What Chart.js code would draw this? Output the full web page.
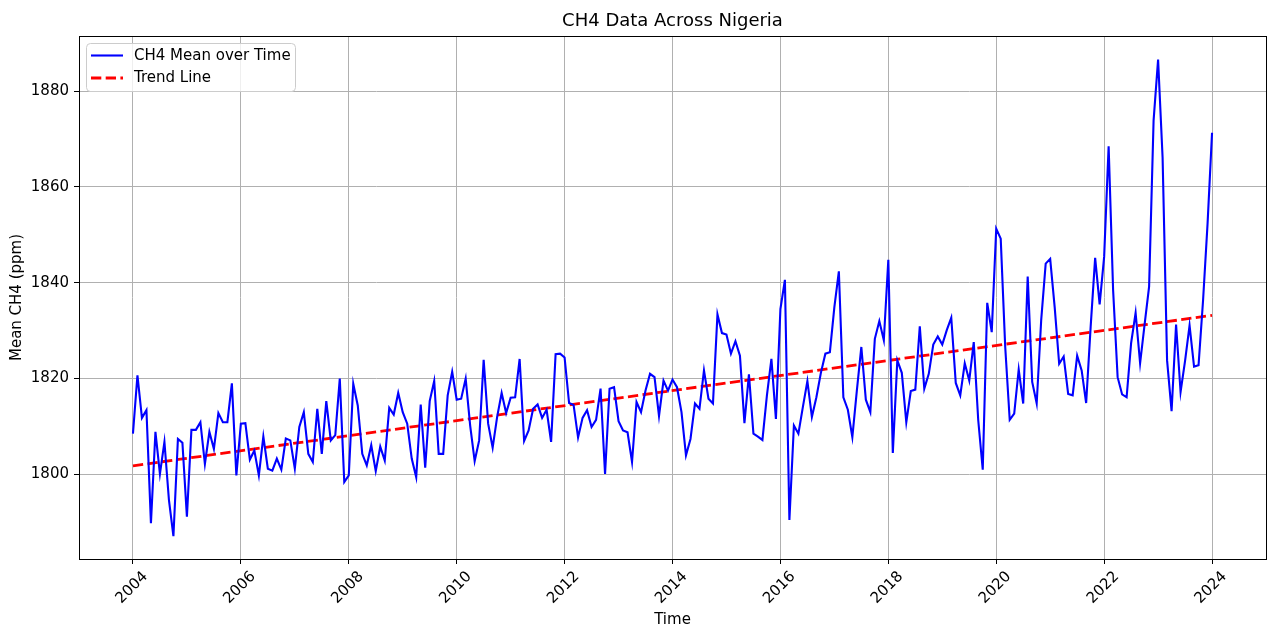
<!DOCTYPE html>
<html><head><meta charset="utf-8">
<script src="https://cdn.jsdelivr.net/npm/chart.js@4.4.1/dist/chart.umd.min.js"></script>
<style>html,body{margin:0;padding:0;background:#fff;}canvas{display:block;}</style>
</head><body>
<canvas id="c" width="1267" height="626"></canvas>
<script>
const chartTitle = 'CH4 Data Across Nigeria';
const xAxisTitle = 'Time';
const yAxisTitle = 'Mean CH4 (ppm)';
const seriesLabels = ['CH4 Mean over Time', 'Trend Line'];
const startYear = 2004; // monthly values from Jan 2004 to Jan 2024
const ch4Mean = [
  1808.5, 1820.7, 1811.8, 1813.4, 1789.8, 1808.9, 1800.1, 1806.8, 1794.7, 1787.1, 1807.4, 1806.6,
  1791.2, 1809.3, 1809.3, 1810.9, 1802.2, 1808.9, 1805.3, 1812.8, 1810.9, 1810.9, 1819.0, 1799.8,
  1810.6, 1810.7, 1803.1, 1805.0, 1799.8, 1807.9, 1801.2, 1800.8, 1803.3, 1801.0, 1807.5, 1807.1,
  1801.2, 1809.9, 1813.0, 1804.3, 1802.6, 1813.7, 1804.3, 1815.3, 1807.1, 1808.2, 1820.0, 1798.4,
  1799.8, 1818.9, 1814.4, 1804.3, 1801.9, 1806.1, 1800.7, 1805.8, 1802.9, 1813.9, 1812.5, 1817.0,
  1813.0, 1810.6, 1803.3, 1799.4, 1814.6, 1801.4, 1815.3, 1819.5, 1804.3, 1804.3, 1816.5, 1821.4,
  1815.6, 1815.8, 1820.0, 1810.2, 1802.8, 1807.1, 1823.9, 1810.6, 1805.6, 1812.0, 1817.0, 1812.8,
  1816.0, 1816.1, 1824.1, 1807.0, 1809.2, 1813.7, 1814.6, 1811.8, 1813.5, 1806.8, 1825.1, 1825.2,
  1824.4, 1814.9, 1814.5, 1807.7, 1811.8, 1813.4, 1809.9, 1811.4, 1817.9, 1800.1, 1817.9, 1818.2,
  1811.1, 1809.2, 1808.8, 1802.6, 1815.1, 1813.0, 1817.5, 1821.0, 1820.3, 1812.2, 1819.6, 1817.5,
  1819.8, 1818.2, 1813.0, 1804.0, 1807.4, 1814.8, 1813.7, 1821.7, 1815.8, 1814.8, 1833.4, 1829.5,
  1829.2, 1825.2, 1827.8, 1824.8, 1810.7, 1820.9, 1808.5, 1807.9, 1807.2, 1816.5, 1824.1, 1811.6,
  1834.5, 1840.6, 1790.5, 1810.2, 1808.5, 1814.1, 1819.5, 1812.0, 1816.1, 1821.2, 1825.2, 1825.5,
  1834.9, 1842.4, 1816.1, 1813.5, 1807.8, 1817.5, 1826.6, 1815.6, 1813.0, 1828.3, 1832.0, 1828.0,
  1844.8, 1804.5, 1823.8, 1821.2, 1810.9, 1817.4, 1817.7, 1830.9, 1817.9, 1821.0, 1827.1, 1828.8,
  1827.1, 1830.1, 1832.7, 1819.1, 1816.5, 1823.2, 1819.6, 1827.6, 1811.3, 1801.0, 1835.8, 1829.7,
  1851.3, 1849.2, 1826.6, 1811.4, 1812.7, 1821.9, 1814.8, 1841.3, 1819.3, 1814.8, 1832.2, 1844.0,
  1845.0, 1834.9, 1823.1, 1824.6, 1816.8, 1816.5, 1824.8, 1821.7, 1814.9, 1830.8, 1845.2, 1835.5,
  1845.4, 1868.5, 1838.4, 1820.3, 1816.7, 1816.1, 1827.4, 1833.7, 1823.2, 1831.3, 1839.2, 1873.9,
  1886.6, 1866.2, 1823.8, 1813.2, 1831.3, 1817.2, 1823.7, 1831.1, 1822.5, 1822.8, 1836.3, 1852.3,
  1871.3
];
const trendYears = [2004, 2024];
const trendValues = [1801.8, 1833.2];
const xTickYears = [2004, 2006, 2008, 2010, 2012, 2014, 2016, 2018, 2020, 2022, 2024];
const yTickValues = [1800, 1820, 1840, 1860, 1880];

const meanPoints = ch4Mean.map((v, i) => ({x: startYear + i / 12, y: v}));
const trendPoints = trendYears.map((yr, i) => ({x: yr, y: trendValues[i]}));

Chart.defaults.font.family = '"DejaVu Sans", sans-serif';
Chart.defaults.font.size = 15;
Chart.defaults.color = '#000';

const legendBox = {
  id: 'legendBox',
  afterDraw(chart) {
    const ctx = chart.ctx, a = chart.chartArea;
    const x = a.left + 7.5, y = a.top + 7.5, w = 209, h = 48;
    ctx.save();
    ctx.beginPath();
    ctx.roundRect(x, y, w, h, 4);
    ctx.fillStyle = 'rgba(255,255,255,0.8)';
    ctx.fill();
    ctx.strokeStyle = '#cccccc';
    ctx.lineWidth = 1;
    ctx.stroke();
    chart.data.datasets.forEach((ds, i) => {
      const ly = y + 12 + i * 22.5;
      ctx.beginPath();
      ctx.setLineDash(ds.borderDash || []);
      ctx.strokeStyle = ds.borderColor;
      ctx.lineWidth = ds.borderWidth;
      ctx.moveTo(x + 4.5, ly);
      ctx.lineTo(x + 36.5, ly);
      ctx.stroke();
      ctx.setLineDash([]);
      ctx.fillStyle = '#000';
      ctx.font = '15px "DejaVu Sans"';
      ctx.textBaseline = 'middle';
      ctx.textAlign = 'left';
      ctx.fillText(ds.label, x + 47.5, ly + 0.5);
    });
    ctx.restore();
  }
};

const gridColor = '#b0b0b0';
new Chart(document.getElementById('c'), {
  type: 'line',
  data: {
    datasets: [
      {label: seriesLabels[0], data: meanPoints, borderColor: '#0000ff', backgroundColor: '#0000ff',
       borderWidth: 2.1, pointRadius: 0, tension: 0, fill: false},
      {label: seriesLabels[1], data: trendPoints, borderColor: '#ff0000', backgroundColor: '#ff0000',
       borderWidth: 2.8, borderDash: [10.3, 4.4], borderCapStyle: 'butt', pointRadius: 0, tension: 0, fill: false}
    ]
  },
  options: {
    responsive: false,
    animation: false,
    devicePixelRatio: 1,
    layout: {padding: 0},
    plugins: {legend: {display: false}, title: {display: false}, tooltip: {enabled: false}},
    scales: {
      x: {
        type: 'linear', position: 'bottom', min: 2003, max: 2025,
        afterFit: s => { s.height = 67; },
        afterBuildTicks: s => { s.ticks = xTickYears.map(v => ({value: v})); },
        ticks: {autoSkip: false, minRotation: 45, maxRotation: 45, padding: 4, labelOffset: 12.5,
                callback: v => String(v), font: {size: 15}},
        grid: {color: gridColor, lineWidth: 1, tickColor: '#000', tickLength: 5, drawTicks: true},
        border: {display: true, color: '#000', width: 1},
        title: {display: true, text: xAxisTitle, padding: {top: 0, bottom: 0}, font: {size: 15, lineHeight: 0.85}}
      },
      x2: {
        type: 'linear', position: 'top', min: 2003, max: 2025,
        afterFit: s => { s.height = 36; },
        ticks: {display: false},
        grid: {display: false, drawTicks: false},
        border: {display: true, color: '#000', width: 1},
        title: {display: true, text: chartTitle, padding: {top: 10.5, bottom: 0}, font: {size: 18}}
      },
      y: {
        type: 'linear', position: 'left', min: 1782.35, max: 1891.5,
        afterFit: s => { s.width = 79; },
        afterBuildTicks: s => { s.ticks = yTickValues.map(v => ({value: v})); },
        ticks: {padding: 5, callback: v => String(v), font: {size: 15}},
        grid: {color: gridColor, lineWidth: 1, tickColor: '#000', tickLength: 5, drawTicks: true},
        border: {display: true, color: '#000', width: 1},
        title: {display: true, text: yAxisTitle, padding: {top: 8.5, bottom: 0}, font: {size: 15}}
      },
      y2: {
        type: 'linear', position: 'right', min: 1782.35, max: 1891.5,
        afterFit: s => { s.width = 1; },
        ticks: {display: false},
        grid: {display: false, drawTicks: false},
        border: {display: true, color: '#000', width: 1}
      }
    }
  },
  plugins: [legendBox]
});
</script>
</body></html>
